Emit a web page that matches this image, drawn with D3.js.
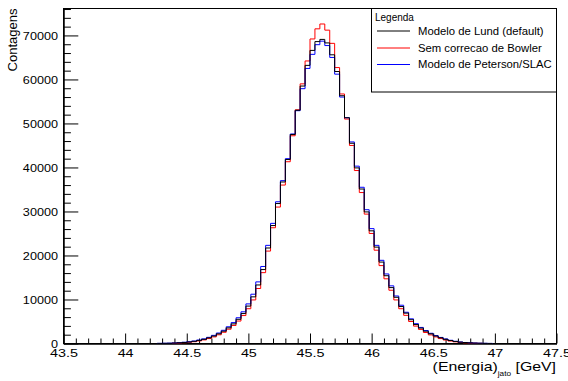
<!DOCTYPE html>
<html><head><meta charset="utf-8">
<script src="https://cdn.jsdelivr.net/npm/d3@7"></script>
<style>
body{margin:0;background:#fff}
svg{display:block}
text{font-family:"Liberation Sans",Arial,Helvetica,sans-serif;fill:#000}
</style>
</head><body>
<svg id="c" width="568" height="381"></svg>
<script>
// ---------- data ----------
const binStart = 44.26;   // low edge of first listed bin (GeV)
const binWidth = 0.04;    // GeV
const lund = [20,40,60,100,160,240,350,500,700,950,1280,1700,2200,2800,3550,4450,5500,6800,8500,10600,13300,16800,21700,26800,31800,36700,41800,47500,53000,58500,63200,66600,68600,69100,68300,65600,61800,56300,51300,45500,39900,35100,29900,25600,21900,18500,15400,12700,10500,8400,6900,5400,4300,3500,2800,2200,1700,1300,950,680,460,310,210,140,90,55,30,10];
const semBowler = [0,0,0,60,110,180,280,410,590,820,1120,1500,1980,2550,3250,4100,5100,6350,7900,9900,12500,16100,21000,26300,31000,36000,41300,47200,53100,59000,64200,69200,71500,72600,71200,68200,62700,56700,51000,45000,39300,34300,29400,25000,21200,17700,14700,12100,9900,7900,6400,5000,3950,3200,2500,1950,1500,1120,800,560,380,250,160,100,60,30,0,0];
const peterson = [30,50,80,120,190,280,400,560,780,1050,1400,1850,2380,3000,3800,4750,5850,7200,9000,11200,14000,17500,22300,27300,32200,37000,42000,47600,52900,57900,62500,65700,67900,68700,67700,65000,61200,56000,51300,45800,40300,35500,30400,26100,22300,18900,15800,13100,10800,8700,7100,5600,4500,3650,2950,2320,1800,1380,1020,730,500,340,230,160,100,65,40,20];
const seriesNames = ["Modelo de Lund (default)", "Sem correcao de Bowler", "Modelo de Peterson/SLAC"];
const seriesColors = ["#000000", "#ff0000", "#0000ff"];
const xMajorTicks = [43.5,44,44.5,45,45.5,46,46.5,47,47.5];
const yMajorTicks = [0,10000,20000,30000,40000,50000,60000,70000];
const xDomain = [43.5, 47.5];
const yDomain = [0, 76120];
const yTitle = "Contagens";
const legendTitle = "Legenda";

// ---------- layout ----------
const L = 63.5, R = 556.5, T = 8.5, B = 343.5;
const svg = d3.select("#c");
const x = d3.scaleLinear().domain(xDomain).range([L, R]);
const y = d3.scaleLinear().domain(yDomain).range([B, T]);
const xStretch = 1.25, yStretch = 1.1;

const xMinor = d3.range(0, 41).map(i => +(43.5 + i*0.1).toFixed(2)).filter(v => !xMajorTicks.some(m => Math.abs(m - v) < 1e-6));
const yMinor = d3.range(0, 39).map(i => i*2000).filter(v => v <= yDomain[1] && v % 10000 !== 0);

// frame
svg.append("rect").attr("x", L).attr("y", T).attr("width", R-L).attr("height", B-T)
  .attr("fill", "none").attr("stroke", "#000").attr("stroke-width", 1);

// x axis
const gx = svg.append("g").attr("transform", `translate(0,${B})`);
gx.call(d3.axisBottom(x).tickValues(xMajorTicks).tickSizeInner(-10).tickSizeOuter(0).tickPadding(5)
  .tickFormat(d => String(+d.toFixed(1))));
gx.append("g").call(d3.axisBottom(x).tickValues(xMinor).tickSizeInner(-5).tickSizeOuter(0).tickFormat(""));
gx.selectAll(".domain").attr("stroke", "#000");
gx.selectAll("line").attr("stroke", "#000");
gx.selectAll("text").attr("font-size", 11.5).attr("font-family", null).attr("transform", `scale(${xStretch},1)`);

// y axis
const gy = svg.append("g").attr("transform", `translate(${L},0)`);
const ypad = 5.5;
gy.call(d3.axisLeft(y).tickValues(yMajorTicks).tickSizeInner(-14.8).tickSizeOuter(0).tickPadding(ypad)
  .tickFormat(d3.format("d")));
gy.append("g").call(d3.axisLeft(y).tickValues(yMinor).tickSizeInner(-7.4).tickSizeOuter(0).tickFormat(""));
gy.selectAll("line").attr("stroke", "#000");
gy.selectAll(".domain").attr("stroke", "#000");
gy.selectAll("text").attr("font-size", 11.5).attr("font-family", null)
  .attr("x", -ypad/yStretch).attr("transform", `scale(${yStretch},1)`);

// histograms
function stepPoints(vals) {
  const first = vals.findIndex(v => v > 0);
  const last = vals.length - 1 - [...vals].reverse().findIndex(v => v > 0);
  const pts = [];
  for (let i = first; i <= last; i++) {
    const lo = binStart + i*binWidth, hi = lo + binWidth;
    if (i === first) pts.push([x(lo), y(0)]);
    pts.push([x(lo), y(vals[i])]);
    pts.push([x(hi), y(vals[i])]);
    if (i === last) pts.push([x(hi), y(0)]);
  }
  return pts;
}
const line = d3.line();
const series = [lund, semBowler, peterson];
const drawOrder = [1, 2, 0];
const gh = svg.append("g");
drawOrder.forEach(k => {
  gh.append("path").attr("d", line(stepPoints(series[k])))
    .attr("fill", "none").attr("stroke", seriesColors[k]).attr("stroke-width", 1);
});

// axis titles
svg.append("text").attr("transform", `translate(17,${T}) rotate(-90)`)
  .attr("text-anchor", "end").attr("font-size", 13).text(yTitle);

const xt = svg.append("text").attr("transform", `translate(${R - 0.5},370.5) scale(1.27,1)`)
  .attr("text-anchor", "end").attr("font-size", 12.5);
xt.append("tspan").text("(Energia)");
xt.append("tspan").attr("font-size", 6.5).attr("dy", 5).text("jato");
xt.append("tspan").attr("dy", -5).text(" [GeV]");

// legend
const lg = svg.append("g");
lg.append("rect").attr("x", 371.5).attr("y", T).attr("width", R - 371.5).attr("height", 83.5)
  .attr("fill", "#fff").attr("stroke", "#000").attr("stroke-width", 1);
lg.append("text").attr("x", 375).attr("y", 21).attr("font-size", 10).text(legendTitle);
const rowsY = [31, 48, 64.5];
seriesNames.forEach((name, k) => {
  lg.append("line").attr("x1", 377).attr("x2", 410).attr("y1", rowsY[k]).attr("y2", rowsY[k])
    .attr("stroke", seriesColors[k]).attr("stroke-width", 1);
  lg.append("text").attr("x", 418).attr("y", rowsY[k]).attr("dy", "0.35em").attr("font-size", 11.3).text(name);
});
</script>
</body></html>
